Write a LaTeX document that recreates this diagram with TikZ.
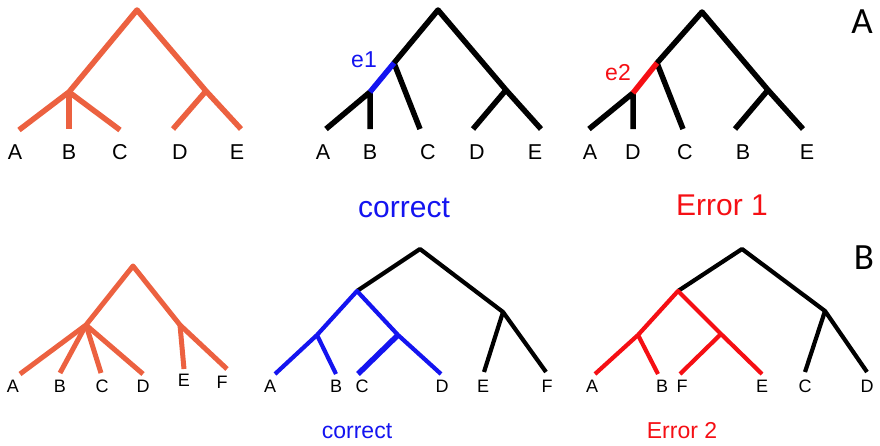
\documentclass[tikz,border=0pt]{standalone}
\usepackage{fontspec}
\setmainfont{Liberation Sans}
\newfontfamily\panelfont{Carlito}
\definecolor{tor}{HTML}{EC6140}
\definecolor{eblue}{RGB}{20,20,240}
\definecolor{ered}{RGB}{245,15,20}
\begin{document}
\begin{tikzpicture}[x=1pt,y=-1pt,
  oedge/.style={line width=5.5pt,color=tor,line join=round},
  kedge/.style={line width=5.5pt,color=black,line join=round},
  kedgeb/.style={line width=4.2pt,color=black,line join=round},
  bedge/.style={line width=4.2pt,color=eblue,line join=round},
  redge/.style={line width=4.2pt,color=ered,line join=round},
  toplab/.style={anchor=base,inner sep=0pt,font=\fontsize{21.5}{21.5}\selectfont},
  botlab/.style={anchor=base,inner sep=0pt,font=\fontsize{18}{18}\selectfont},
  biglab/.style={anchor=base,inner sep=0pt,font=\fontsize{30}{30}\selectfont},
  midlab/.style={anchor=base,inner sep=0pt,font=\fontsize{23}{23}\selectfont},
  panel/.style={inner sep=0pt,font=\panelfont\fontsize{37}{37}\selectfont}]
\useasboundingbox (0,0) rectangle (880,445);

% ---------- Tree 1 (orange, top) ----------
\coordinate (r1) at (137,10);
\coordinate (n1a) at (69,92);
\coordinate (n1b) at (206,91);
\coordinate (a1) at (19,130);
\coordinate (b1) at (69,129);
\coordinate (c1) at (120,130);
\coordinate (d1) at (173,129);
\coordinate (e1) at (241,129);
\draw[oedge] (a1) -- (n1a) -- (r1) -- (n1b) -- (e1);
\draw[oedge] (n1a) -- (b1);
\draw[oedge] (n1a) -- (c1);
\draw[oedge] (n1b) -- (d1);
\node[toplab] (la1) at (15,159) {A};
\node[toplab] (lb1) at (69,159) {B};
\node[toplab] (lc1) at (120,159) {C};
\node[toplab] (ld1) at (180,159) {D};
\node[toplab] (le1) at (237,159) {E};

% ---------- Tree 2 (black, top) ----------
\coordinate (r2) at (438,10);
\coordinate (t2) at (394,63);
\coordinate (m2) at (370,92);
\coordinate (a2) at (326,129);
\coordinate (b2) at (370,129);
\coordinate (c2) at (420,129);
\coordinate (n2) at (506,90);
\coordinate (d2) at (473,129);
\coordinate (e2) at (541,129);
\draw[kedge] (a2) -- (m2) -- (b2);
\draw[kedge] (c2) -- (t2) -- (r2) -- (n2) -- (e2);
\draw[kedge] (n2) -- (d2);
\draw[line width=5.5pt,color=eblue] (t2) -- (m2);
\node[midlab,text=eblue] (le1lab) at (364,67) {e1};
\node[toplab] (la2) at (323,159) {A};
\node[toplab] (lb2) at (370,159) {B};
\node[toplab] (lc2) at (428,159) {C};
\node[toplab] (ld2) at (477,159) {D};
\node[toplab] (le2) at (535,159) {E};
\node[biglab,text=eblue] (corr1) at (404,217) {correct};

% ---------- Tree 3 (black, top, error) ----------
\coordinate (r3) at (702,12);
\coordinate (t3) at (657,63);
\coordinate (m3) at (633,93);
\coordinate (a3) at (589,129);
\coordinate (d3) at (633,129);
\coordinate (c3) at (683,129);
\coordinate (n3) at (768,90);
\coordinate (b3) at (735,129);
\coordinate (e3) at (803,129);
\draw[kedge] (a3) -- (m3) -- (d3);
\draw[kedge] (c3) -- (t3) -- (r3) -- (n3) -- (e3);
\draw[kedge] (n3) -- (b3);
\draw[line width=5.5pt,color=ered] (t3) -- (m3);
\node[midlab,text=ered] (le2lab) at (618,80) {e2};
\node[toplab] (la3) at (590,159) {A};
\node[toplab] (ld3) at (633,159) {D};
\node[toplab] (lc3) at (685,159) {C};
\node[toplab] (lb3) at (743,159) {B};
\node[toplab] (le3) at (807,159) {E};
\node[biglab,text=ered] (err1) at (722,215) {Error 1};
\node[panel] (pA) at (862,22) {A};

% ---------- Tree 4 (orange, bottom) ----------
\coordinate (r4) at (133,266);
\coordinate (n4a) at (86,325);
\coordinate (n4b) at (180,325);
\coordinate (a4) at (20,374);
\coordinate (b4) at (60,373);
\coordinate (c4) at (101,373);
\coordinate (d4) at (143,374);
\coordinate (e4) at (184,369);
\coordinate (f4) at (227,369);
\draw[oedge,line width=5pt] (a4) -- (n4a) -- (r4) -- (n4b) -- (f4);
\draw[oedge,line width=5pt] (n4a) -- (b4);
\draw[oedge,line width=5pt] (n4a) -- (c4);
\draw[oedge,line width=5pt] (n4a) -- (d4);
\draw[oedge,line width=5pt] (n4b) -- (e4);
\node[botlab] (la4) at (13,392) {A};
\node[botlab] (lb4) at (60,392) {B};
\node[botlab] (lc4) at (102,392) {C};
\node[botlab] (ld4) at (143,392) {D};
\node[botlab] (le4) at (184,386) {E};
\node[botlab] (lf4) at (222,388) {F};

% ---------- Tree 5 (correct, bottom) ----------
\coordinate (r5) at (420,249);
\coordinate (n5) at (357,291);
\coordinate (n5r) at (503,312);
\coordinate (n5ab) at (317,335);
\coordinate (n5cd) at (398,335);
\coordinate (a5) at (275,374);
\coordinate (b5) at (336,374);
\coordinate (c5) at (358,374);
\coordinate (d5) at (441,374);
\coordinate (e5) at (484,372);
\coordinate (f5) at (546,372);
\draw[kedgeb] (n5) -- (r5) -- (n5r) -- (f5);
\draw[kedgeb] (n5r) -- (e5);
\draw[bedge] (a5) -- (n5ab) -- (n5) -- (n5cd) -- (d5);
\draw[bedge] (n5ab) -- (b5);
\draw[bedge,line width=5.5pt] (n5cd) -- (c5);
\node[botlab] (la5) at (270,392) {A};
\node[botlab] (lb5) at (336,392) {B};
\node[botlab] (lc5) at (362,392) {C};
\node[botlab] (ld5) at (442,392) {D};
\node[botlab] (le5) at (483,392) {E};
\node[botlab] (lf5) at (547,392) {F};
\node[midlab,text=eblue] (corr2) at (357,438) {correct};

% ---------- Tree 6 (error, bottom) ----------
\coordinate (r6) at (742,249);
\coordinate (n6) at (678,291);
\coordinate (n6r) at (825,311);
\coordinate (n6ab) at (638,335);
\coordinate (n6fe) at (721,334);
\coordinate (a6) at (595,374);
\coordinate (b6) at (658,374);
\coordinate (f6) at (680,374);
\coordinate (e6) at (762,374);
\coordinate (c6) at (805,372);
\coordinate (d6) at (867,372);
\draw[kedgeb] (n6) -- (r6) -- (n6r) -- (d6);
\draw[kedgeb] (n6r) -- (c6);
\draw[redge] (a6) -- (n6ab) -- (n6) -- (n6fe) -- (e6);
\draw[redge] (n6ab) -- (b6);
\draw[redge] (n6fe) -- (f6);
\node[botlab] (la6) at (592,392) {A};
\node[botlab] (lb6) at (662,392) {B};
\node[botlab] (lf6) at (682,392) {F};
\node[botlab] (le6) at (762,392) {E};
\node[botlab] (lc6) at (805,392) {C};
\node[botlab] (ld6) at (867,392) {D};
\node[midlab,text=ered] (err2) at (682,438) {Error 2};
\node[panel] (pB) at (864,258) {B};
\end{tikzpicture}
\end{document}
